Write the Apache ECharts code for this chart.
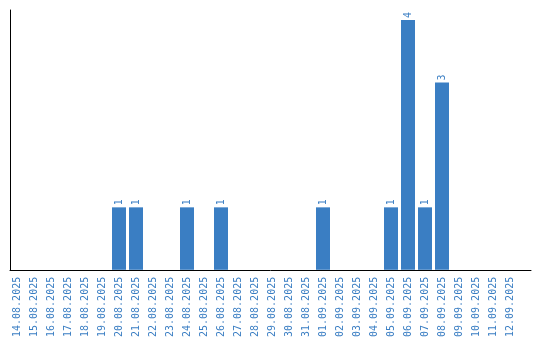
<!DOCTYPE html>
<html><head><meta charset="utf-8">
<script src="https://cdn.jsdelivr.net/npm/echarts@6/dist/echarts.min.js"></script>
<style>html,body{margin:0;padding:0;background:#fff}#c{width:540px;height:340px}</style>
</head><body><div id="c"></div>
<script>
var categories = ['14.08.2025','15.08.2025','16.08.2025','17.08.2025','18.08.2025','19.08.2025','20.08.2025','21.08.2025','22.08.2025','23.08.2025','24.08.2025','25.08.2025','26.08.2025','27.08.2025','28.08.2025','29.08.2025','30.08.2025','31.08.2025','01.09.2025','02.09.2025','03.09.2025','04.09.2025','05.09.2025','06.09.2025','07.09.2025','08.09.2025','09.09.2025','10.09.2025','11.09.2025','12.09.2025'];
var values = [0,0,0,0,0,0,1,1,0,0,1,0,1,0,0,0,0,0,1,0,0,0,1,4,1,3,0,0,0,0];
var blue = '#3a7ec3';
var chart = echarts.init(document.getElementById('c'), null, {renderer:'canvas'});
chart.setOption({
  animation:false,
  backgroundColor:'#fff',
  grid:[
    {left:10, right:9, top:10, bottom:70},
    {left:8.5, right:21.5, top:20, bottom:70}
  ],
  xAxis:[
    {gridIndex:0, type:'value', min:0, max:1, axisLine:{show:true, onZero:false, lineStyle:{color:'#000', width:1}}, axisTick:{show:false}, axisLabel:{show:false}, splitLine:{show:false}},
    {gridIndex:1, type:'category', data:categories, axisLine:{show:false}, axisTick:{show:false}, splitLine:{show:false},
     axisLabel:{rotate:90, interval:0, margin:7, color:blue, fontFamily:'DejaVu Sans Mono', fontSize:10}}
  ],
  yAxis:[
    {gridIndex:0, type:'value', min:0, max:1, axisLine:{show:true, onZero:false, lineStyle:{color:'#000', width:1}}, axisTick:{show:false}, axisLabel:{show:false}, splitLine:{show:false}},
    {gridIndex:1, type:'value', min:0, max:4, show:false}
  ],
  series:[{
    type:'bar', xAxisIndex:1, yAxisIndex:1, barWidth:14,
    data: values.map(function(v){ return v === 0 ? null : v; }),
    itemStyle:{color:blue},
    label:{show:true, position:'top', rotate:90, align:'left', verticalAlign:'middle', distance:2, color:blue, fontFamily:'DejaVu Sans Mono', fontSize:10}
  }]
});
</script></body></html>
